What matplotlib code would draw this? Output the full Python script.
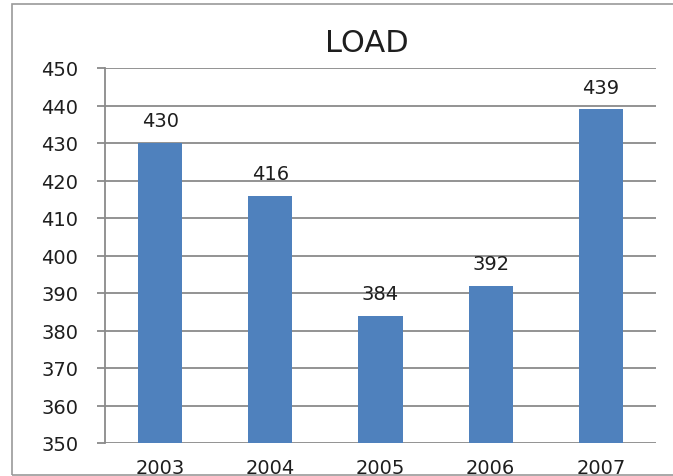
import matplotlib
matplotlib.use("Agg")
import matplotlib.pyplot as plt
from matplotlib.patches import Rectangle

# data
years = ["2003", "2004", "2005", "2006", "2007"]
load = [430, 416, 384, 392, 439]
y_ticks = list(range(350, 451, 10))

bar_color = "#4F81BD"
grid_color = "#8A8A8A"
text_color = "#1E1E1E"

W, H = 673, 477
fig = plt.figure(figsize=(W / 100, H / 100), dpi=100)
fig.patch.set_facecolor("white")

# outer chart frame (runs past right edge like the screenshot)
fig.patches.append(Rectangle((12 / W, 1 - 476 / H), 1.0, (476 - 5) / H,
                             transform=fig.transFigure, fill=False,
                             edgecolor="#9A9A9A", lw=1.2, zorder=0))

ax = fig.add_axes([105 / W, 1 - 444 / H, (656 - 105) / W, (444 - 69) / H])
x = list(range(len(years)))
bars = ax.bar(x, load, width=0.4, color=bar_color, zorder=3)

ax.set_xlim(-0.5, len(years) - 0.5)
ax.set_ylim(350, 450)
ax.set_yticks(y_ticks)
ax.set_xticks(x)
ax.set_xticklabels(years)

ax.yaxis.grid(True, color=grid_color, lw=1.3, zorder=0)
ax.set_axisbelow(True)
for s in ["top", "right", "bottom"]:
    ax.spines[s].set_visible(False)
ax.spines["left"].set_color(grid_color)
ax.spines["left"].set_linewidth(1.3)

ax.tick_params(axis="y", direction="out", length=5.8, width=1.3,
               color=grid_color, pad=13.5, labelsize=14, labelcolor=text_color)
ax.tick_params(axis="x", length=0, pad=10.5, labelsize=14, labelcolor=text_color)

# value labels above each bar
for b, v in zip(bars, load):
    ax.annotate(f"{v}", (b.get_x() + b.get_width() / 2, b.get_height()),
                xytext=(0, 12), textcoords="offset points",
                ha="center", va="baseline", fontsize=14, color=text_color)

fig.text(367 / W, 1 - 52 / H, "LOAD", ha="center", va="baseline",
         fontsize=22, color=text_color)

fig.savefig("out.png", dpi=100)
